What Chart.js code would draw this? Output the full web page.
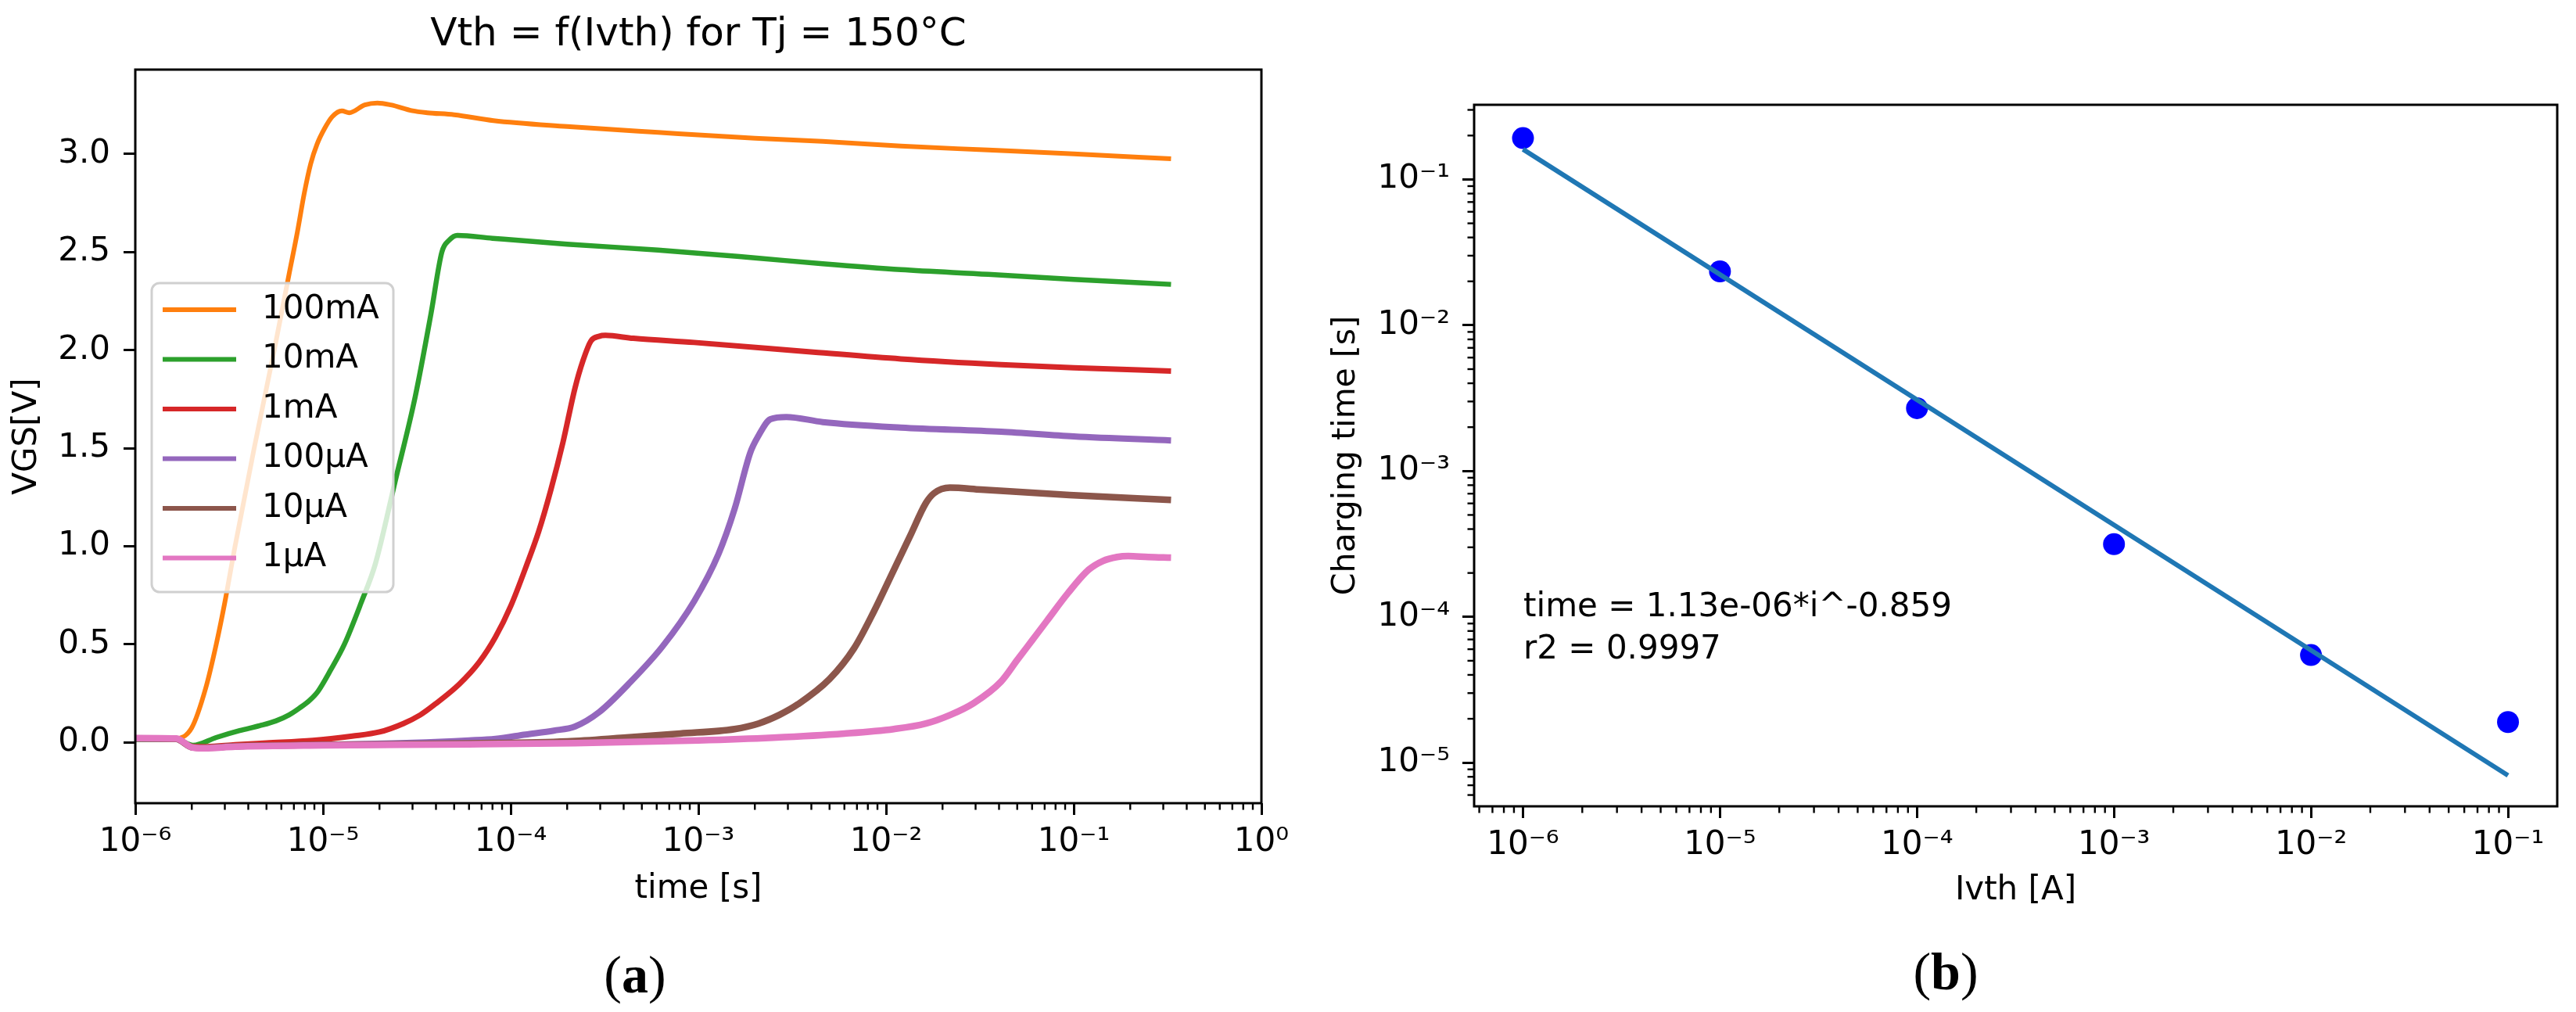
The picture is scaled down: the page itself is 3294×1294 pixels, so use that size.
<!DOCTYPE html>
<html><head><meta charset="utf-8">
<script src="https://cdn.jsdelivr.net/npm/chart.js@4.4.1/dist/chart.umd.min.js"></script>
<style>
html,body{margin:0;padding:0;background:#fff;width:3294px;height:1294px;overflow:hidden;}
#ca{position:absolute;left:0;top:0;}
#cb{position:absolute;left:1680px;top:0;}
.sub{position:absolute;font-family:"Liberation Serif",serif;font-size:68px;color:#000;transform:translate(-50%,-50%);line-height:1;white-space:nowrap}
</style></head><body>
<canvas id="ca" width="1680" height="1294"></canvas>
<canvas id="cb" width="1614" height="1294"></canvas>
<div class="sub" style="left:812px;top:1246px">(<b>a</b>)</div>
<div class="sub" style="left:2488px;top:1242px">(<b>b</b>)</div>
<script>
// ---------- Chart (a) data ----------
const seriesLabels = ['100mA', '10mA', '1mA', '100µA', '10µA', '1µA'];
const seriesColors = ['#ff7f0e', '#2ca02c', '#d62728', '#9467bd', '#8c564b', '#e377c2'];

const t100mA = [1e-6, 1.3e-6, 1.65e-6, 2.0e-6, 2.37e-6, 2.7e-6, 3.0e-6, 3.4e-6, 4.3e-6, 5.5e-6, 6.6e-6, 7.3e-6, 7.95e-6, 8.6e-6, 9.3e-6, 1.02e-5, 1.12e-5, 1.26e-5, 1.38e-5, 1.67e-5, 1.95e-5, 2.3e-5, 3.0e-5, 3.6e-5, 5e-5, 8.1e-5, 2e-4, 6.1e-4, 2e-3, 4.6e-3, 1.2e-2, 3.5e-2, 0.1, 0.33];
const v100mA = [0.02, 0.02, 0.02, 0.075, 0.275, 0.5, 0.714, 1.0, 1.5, 2.0, 2.388, 2.6, 2.8, 2.95, 3.05, 3.13, 3.19, 3.22, 3.21, 3.25, 3.26, 3.25, 3.22, 3.21, 3.2, 3.17, 3.14, 3.11, 3.08, 3.064, 3.04, 3.02, 3.0, 2.975];

const t10mA = [1e-6, 1.65e-6, 2.03e-6, 2.7e-6, 3.6e-6, 4.6e-6, 5.6e-6, 6.6e-6, 7.5e-6, 8.5e-6, 9.4e-6, 1.1e-5, 1.3e-5, 1.6e-5, 1.9e-5, 2.43e-5, 3.1e-5, 3.77e-5, 4.3e-5, 4.7e-5, 5.2e-5, 8e-5, 2e-4, 6.1e-4, 2e-3, 4.6e-3, 1.2e-2, 3.5e-2, 0.1, 0.33];
const v10mA = [0.015, 0.015, -0.015, 0.025, 0.06, 0.085, 0.109, 0.14, 0.175, 0.215, 0.26, 0.37, 0.5, 0.714, 0.909, 1.335, 1.762, 2.19, 2.5, 2.56, 2.585, 2.57, 2.54, 2.51, 2.47, 2.44, 2.41, 2.386, 2.36, 2.335];

const t1mA = [1e-6, 1.65e-6, 2.0e-6, 2.4e-6, 3.4e-6, 5e-6, 8.8e-6, 1.43e-5, 2.0e-5, 2.68e-5, 3.3e-5, 3.96e-5, 5.3e-5, 6.8e-5, 8.3e-5, 1.0e-4, 1.22e-4, 1.41e-4, 1.64e-4, 1.9e-4, 2.2e-4, 2.43e-4, 2.68e-4, 2.95e-4, 3.2e-4, 4.5e-4, 9.5e-4, 4.1e-3, 1.2e-2, 4.1e-2, 0.1, 0.33];
const v1mA = [0.02, 0.018, -0.02, -0.022, -0.012, -0.003, 0.01, 0.032, 0.053, 0.096, 0.14, 0.195, 0.295, 0.409, 0.537, 0.694, 0.907, 1.075, 1.29, 1.53, 1.805, 1.947, 2.047, 2.07, 2.075, 2.06, 2.039, 1.99, 1.955, 1.926, 1.91, 1.893];

const t100uA = [1e-6, 1.65e-6, 2.0e-6, 2.3e-6, 3.4e-6, 1e-5, 3e-5, 6e-5, 8.3e-5, 1.2e-4, 1.7e-4, 2.2e-4, 2.95e-4, 4.36e-4, 6.45e-4, 9.5e-4, 1.28e-3, 1.56e-3, 1.89e-3, 2.09e-3, 2.42e-3, 2.94e-3, 4.6e-3, 1.2e-2, 4.1e-2, 0.1, 0.33];
const v100uA = [0.02, 0.018, -0.025, -0.028, -0.02, -0.012, -0.002, 0.01, 0.018, 0.04, 0.06, 0.081, 0.153, 0.309, 0.49, 0.72, 0.96, 1.19, 1.477, 1.563, 1.648, 1.659, 1.633, 1.605, 1.584, 1.56, 1.539];

const t10uA = [1e-6, 1.65e-6, 2.0e-6, 2.3e-6, 3.4e-6, 1e-5, 6e-5, 2e-4, 4e-4, 8e-4, 1.56e-3, 2.09e-3, 2.7e-3, 3.4e-3, 5.0e-3, 6.76e-3, 8.6e-3, 1.1e-2, 1.34e-2, 1.63e-2, 1.8e-2, 2.19e-2, 3.2e-2, 9.5e-2, 0.33];
const v10uA = [0.02, 0.018, -0.025, -0.028, -0.02, -0.013, -0.005, 0.005, 0.024, 0.045, 0.068, 0.096, 0.14, 0.195, 0.323, 0.48, 0.666, 0.879, 1.05, 1.22, 1.27, 1.299, 1.289, 1.261, 1.236];

const t1uA = [1e-6, 1.65e-6, 2.0e-6, 2.3e-6, 3.4e-6, 1e-5, 6e-5, 2.2e-4, 1e-3, 2.5e-3, 6e-3, 1.1e-2, 1.63e-2, 2.2e-2, 2.93e-2, 4.1e-2, 5.0e-2, 6.0e-2, 7.2e-2, 9.3e-2, 1.2e-1, 1.43e-1, 1.7e-1, 1.95e-1, 0.25, 0.33];
const v1uA = [0.022, 0.02, -0.025, -0.03, -0.022, -0.015, -0.01, -0.004, 0.01, 0.024, 0.045, 0.068, 0.096, 0.14, 0.2, 0.31, 0.42, 0.52, 0.62, 0.76, 0.88, 0.925, 0.945, 0.95, 0.945, 0.942];

const xTicksA = [1e-6, 1e-5, 1e-4, 1e-3, 1e-2, 1e-1, 1];
const xTickLabelsA = ['10⁻⁶', '10⁻⁵', '10⁻⁴', '10⁻³', '10⁻²', '10⁻¹', '10⁰'];
const yTicksA = [0, 0.5, 1, 1.5, 2, 2.5, 3];
const yTickLabelsA = ['0.0', '0.5', '1.0', '1.5', '2.0', '2.5', '3.0'];

// ---------- Chart (b) data ----------
const ivth = [1e-6, 1e-5, 1e-4, 1e-3, 1e-2, 1e-1];
const chargingTime = [0.192, 0.0234, 0.0027, 3.15e-4, 5.47e-5, 1.9e-5];
const fitIvth = [1e-6, 1e-1];
const fitTime = [0.161, 8.17e-6];
const fitText = ['time = 1.13e-06*i^-0.859', 'r2 = 0.9997'];

const xTicksB = [1e-6, 1e-5, 1e-4, 1e-3, 1e-2, 1e-1];
const xTickLabelsB = ['10⁻⁶', '10⁻⁵', '10⁻⁴', '10⁻³', '10⁻²', '10⁻¹'];
const yTicksB = [1e-5, 1e-4, 1e-3, 1e-2, 1e-1];
const yTickLabelsB = ['10⁻⁵', '10⁻⁴', '10⁻³', '10⁻²', '10⁻¹'];

// ---------- helpers ----------
const seriesT = [t100mA, t10mA, t1mA, t100uA, t10uA, t1uA];
const seriesV = [v100mA, v10mA, v1mA, v100uA, v10uA, v1uA];
const lineWidths = [6, 6.5, 7, 8, 8.5, 8.5];
function minorLog(e0, e1) {
  const out = [];
  for (let e = e0; e <= e1; e++) for (let k = 2; k <= 9; k++) out.push(k * Math.pow(10, e));
  return out;
}
const FONT = 'DejaVu Sans';
Chart.defaults.color = '#000';
Chart.defaults.font.family = FONT;

const frameAndMinor = {
  id: 'frameAndMinor',
  afterDraw(chart, args, opts) {
    const ctx = chart.ctx, a = chart.chartArea;
    ctx.save();
    ctx.strokeStyle = '#000';
    ctx.lineCap = 'butt';
    ctx.lineWidth = 2.4;
    (opts.minor || []).forEach(m => {
      const sc = chart.scales[m.axis];
      m.values.forEach(v => {
        if (v <= sc.min || v >= sc.max) return;
        const p = sc.getPixelForValue(v);
        ctx.beginPath();
        if (sc.isHorizontal()) { ctx.moveTo(p, a.bottom); ctx.lineTo(p, a.bottom + 8.5); }
        else { ctx.moveTo(a.left, p); ctx.lineTo(a.left - 8.5, p); }
        ctx.stroke();
      });
    });
    ctx.lineWidth = 3;
    ctx.strokeRect(a.left, a.top, a.right - a.left, a.bottom - a.top);
    ctx.restore();
  }
};

const boxLegend = {
  id: 'boxLegend',
  afterDatasetsDraw(chart) {
    const ctx = chart.ctx, a = chart.chartArea;
    const x0 = a.left + 21, y0 = a.top + 273, w = 309, h = 395, r = 10;
    ctx.save();
    ctx.beginPath();
    ctx.moveTo(x0 + r, y0);
    ctx.arcTo(x0 + w, y0, x0 + w, y0 + h, r);
    ctx.arcTo(x0 + w, y0 + h, x0, y0 + h, r);
    ctx.arcTo(x0, y0 + h, x0, y0, r);
    ctx.arcTo(x0, y0, x0 + w, y0, r);
    ctx.closePath();
    ctx.fillStyle = 'rgba(255,255,255,0.8)';
    ctx.fill();
    ctx.strokeStyle = '#d0d0d0';
    ctx.lineWidth = 3;
    ctx.stroke();
    ctx.font = '42px "' + FONT + '"';
    ctx.textBaseline = 'middle';
    ctx.textAlign = 'left';
    chart.data.datasets.forEach((ds, i) => {
      const y = y0 + 34 + i * 63.5;
      ctx.strokeStyle = ds.borderColor;
      ctx.lineWidth = 6;
      ctx.beginPath();
      ctx.moveTo(x0 + 14, y);
      ctx.lineTo(x0 + 108, y);
      ctx.stroke();
      ctx.fillStyle = '#000';
      ctx.fillText(ds.label, x0 + 141, y);
    });
    ctx.restore();
  }
};

const fitNote = {
  id: 'fitNote',
  afterDatasetsDraw(chart, args, opts) {
    const ctx = chart.ctx, a = chart.chartArea;
    ctx.save();
    ctx.font = '42px "' + FONT + '"';
    ctx.fillStyle = '#000';
    ctx.textBaseline = 'middle';
    ctx.textAlign = 'left';
    opts.lines.forEach((s, i) => ctx.fillText(s, a.left + 63, a.top + 643 + i * 54));
    ctx.restore();
  }
};

function tickFont() { return {family: FONT, size: 42}; }
const gridOpts = {drawOnChartArea: false, drawTicks: true, tickLength: 15, tickWidth: 3, tickColor: '#000'};

// ---------- Chart (a) ----------
new Chart(document.getElementById('ca'), {
  type: 'scatter',
  data: {
    datasets: seriesLabels.map((lab, i) => ({
      label: lab,
      data: seriesT[i].map((t, j) => ({x: t, y: seriesV[i][j]})),
      showLine: true,
      borderColor: seriesColors[i],
      backgroundColor: seriesColors[i],
      borderWidth: lineWidths[i],
      pointRadius: 0,
      cubicInterpolationMode: 'monotone',
      fill: false,
      order: 6 - i
    }))
  },
  options: {
    responsive: false, animation: false, devicePixelRatio: 1, events: [],
    layout: {padding: {left: 0, right: 67, top: 0, bottom: 0}},
    plugins: {
      legend: {display: false},
      tooltip: {enabled: false},
      title: {
        display: true, text: 'Vth = f(Ivth) for Tj = 150°C', fullSize: false, color: '#000',
        font: {family: FONT, size: 50, weight: 'normal', lineHeight: 1.2},
        padding: {top: 15, bottom: 14}
      },
      frameAndMinor: {minor: [{axis: 'x', values: minorLog(-6, -1)}]}
    },
    scales: {
      x: {
        type: 'logarithmic', position: 'bottom', min: 1e-6, max: 1, bounds: 'data',
        afterBuildTicks: s => { s.ticks = xTicksA.map(v => ({value: v})); },
        afterFit: s => { s.height = 267; },
        ticks: {autoSkip: false, maxRotation: 0, padding: 10, color: '#000', font: tickFont(),
          callback: (v, i) => xTickLabelsA[i]},
        grid: gridOpts,
        border: {display: false},
        title: {display: true, text: 'time [s]', color: '#000', font: tickFont(), padding: {top: 0, bottom: 132}}
      },
      y: {
        type: 'linear', position: 'left', min: -0.31, max: 3.43, bounds: 'data',
        afterBuildTicks: s => { s.ticks = yTicksA.map(v => ({value: v})); },
        afterFit: s => { s.width = 173; },
        ticks: {autoSkip: false, padding: 17, color: '#000', font: tickFont(),
          callback: (v, i) => yTickLabelsA[i]},
        grid: gridOpts,
        border: {display: false},
        title: {display: true, text: 'VGS[V]', color: '#000', font: tickFont(), padding: {top: 10, bottom: 0}}
      }
    }
  },
  plugins: [boxLegend, frameAndMinor]
});

// ---------- Chart (b) ----------
new Chart(document.getElementById('cb'), {
  type: 'scatter',
  data: {
    datasets: [
      {
        label: 'fit',
        data: fitIvth.map((x, j) => ({x: x, y: fitTime[j]})),
        showLine: true, borderColor: '#1f77b4', borderWidth: 6, pointRadius: 0, fill: false, order: 0
      },
      {
        label: 'Charging time',
        data: ivth.map((x, j) => ({x: x, y: chargingTime[j]})),
        showLine: false, pointRadius: 14, pointBackgroundColor: '#0000ff', backgroundColor: '#0000ff',
        pointBorderWidth: 0, borderWidth: 0, order: 1
      }
    ]
  },
  options: {
    responsive: false, animation: false, devicePixelRatio: 1, events: [],
    layout: {padding: {left: 0, right: 24, top: 134, bottom: 0}},
    plugins: {
      legend: {display: false},
      tooltip: {enabled: false},
      fitNote: {lines: fitText},
      frameAndMinor: {minor: [{axis: 'x', values: minorLog(-7, -1)}, {axis: 'y', values: minorLog(-6, -1)}]}
    },
    scales: {
      x: {
        type: 'logarithmic', position: 'bottom', min: 5.65e-7, max: 0.1778, bounds: 'data',
        afterBuildTicks: s => { s.ticks = xTicksB.map(v => ({value: v})); },
        afterFit: s => { s.height = 263; },
        ticks: {autoSkip: false, maxRotation: 0, padding: 10, color: '#000', font: tickFont(),
          callback: (v, i) => xTickLabelsB[i]},
        grid: gridOpts,
        border: {display: false},
        title: {display: true, text: 'Ivth [A]', color: '#000', font: tickFont(), padding: {top: 0, bottom: 130}}
      },
      y: {
        type: 'logarithmic', position: 'left', min: 5.02e-6, max: 0.325, bounds: 'data',
        afterBuildTicks: s => { s.ticks = yTicksB.map(v => ({value: v})); },
        afterFit: s => { s.width = 205; },
        ticks: {autoSkip: false, padding: 16, color: '#000', font: tickFont(),
          callback: (v, i) => yTickLabelsB[i]},
        grid: gridOpts,
        border: {display: false},
        title: {display: true, text: 'Charging time [s]', color: '#000', font: {family: FONT, size: 41}, padding: {top: 17, bottom: 0}}
      }
    }
  },
  plugins: [fitNote, frameAndMinor]
});
</script></body></html>
